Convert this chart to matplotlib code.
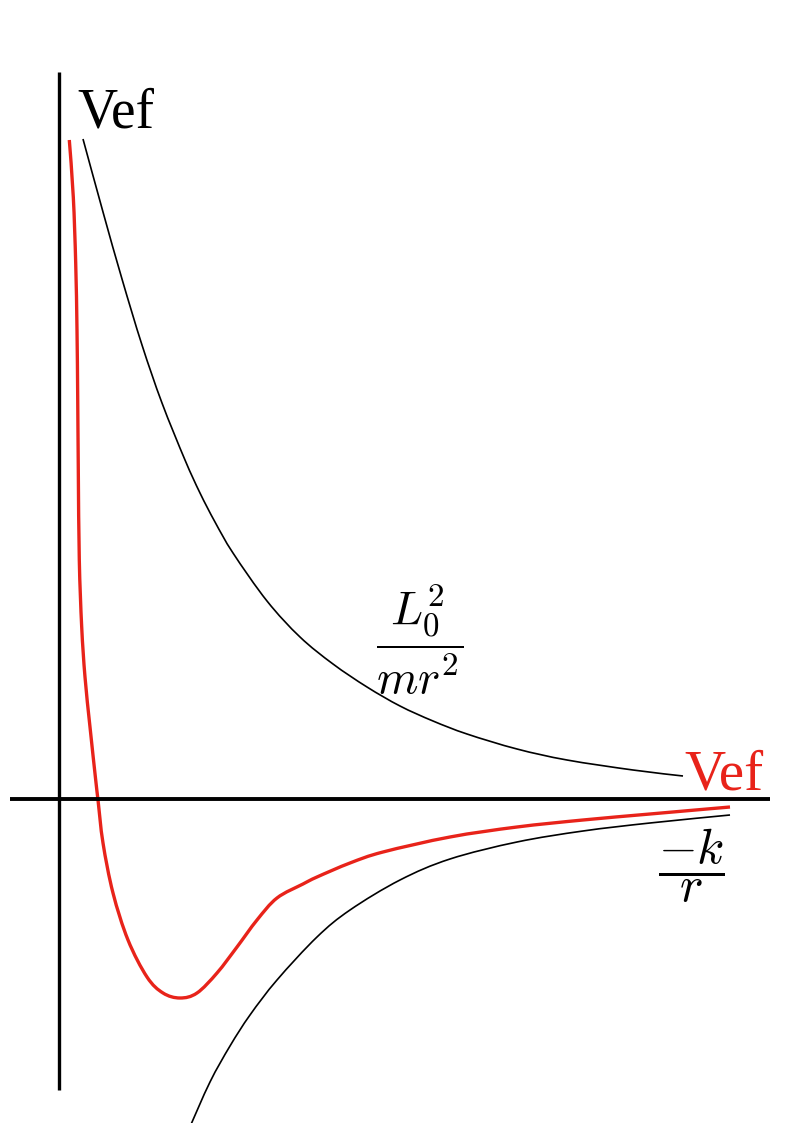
import matplotlib.pyplot as plt
from matplotlib.path import Path
from matplotlib.patches import PathPatch

plt.rcParams['mathtext.fontset'] = 'cm'

# effective potential
r_vef = [0.103, 0.143, 0.167, 0.180, 0.187, 0.193, 0.203, 0.227, 0.26, 0.31, 0.367, 0.39,
         0.44, 0.54, 0.69, 0.88, 1.04, 1.21, 1.38, 1.58, 1.78, 1.98, 2.18, 2.44,
         2.58, 2.91, 3.24, 3.91, 4.58, 5.24, 5.91, 6.71]
v_vef = [6.59, 6.02, 5.36, 4.69, 4.02, 3.29, 2.39, 1.72, 1.22, 0.72, 0.19, -0.01,
         -0.44, -0.94, -1.41, -1.78, -1.94, -1.99, -1.94, -1.74, -1.48, -1.21, -0.99, -0.85,
         -0.78, -0.64, -0.53, -0.38, -0.28, -0.21, -0.15, -0.08]

# centrifugal term L0^2/(m r^2)
r_cent = [0.24, 0.44, 0.63, 0.83, 1.03, 1.26, 1.41, 1.56, 1.74, 2.08,
          2.41, 2.74, 3.08, 3.41, 3.74, 4.08, 4.58, 5.08, 5.74, 6.24]
v_cent = [6.60, 5.87, 5.20, 4.54, 3.96, 3.39, 3.06, 2.77, 2.46, 1.98,
          1.62, 1.35, 1.12, 0.93, 0.78, 0.65, 0.50, 0.39, 0.29, 0.23]

# attractive term -k/r
r_grav = [1.30, 1.51, 1.71, 1.91, 2.18, 2.58, 2.91, 3.41, 3.91, 4.58, 5.24, 5.91, 6.71]
v_grav = [-3.30, -2.83, -2.47, -2.16, -1.81, -1.38, -1.11, -0.81, -0.60, -0.43, -0.32, -0.24, -0.16]

red = '#e8231a'


def smooth_path(xs, ys):
    # catmull-rom through the read points, drawn as cubic bezier segments
    pts = list(zip(xs, ys))
    verts = [pts[0]]
    codes = [Path.MOVETO]
    n = len(pts)
    for i in range(n - 1):
        p0 = pts[max(i - 1, 0)]
        p1 = pts[i]
        p2 = pts[i + 1]
        p3 = pts[min(i + 2, n - 1)]
        c1 = (p1[0] + (p2[0] - p0[0]) / 6, p1[1] + (p2[1] - p0[1]) / 6)
        c2 = (p2[0] - (p3[0] - p1[0]) / 6, p2[1] - (p3[1] - p1[1]) / 6)
        verts += [c1, c2, p2]
        codes += [Path.CURVE4] * 3
    return Path(verts, codes)


fig = plt.figure(figsize=(7.94, 11.23), dpi=100)
ax = fig.add_axes([0, 0, 1, 1])
ax.set_xlim(-0.59, 7.35)
ax.set_ylim(-3.24, 7.99)
ax.axis('off')

# axes drawn by hand
ax.plot([0, 0], [-2.91, 7.27], color='black', lw=2.4, solid_capstyle='butt')
ax.plot([-0.49, 7.11], [0, 0], color='black', lw=2.8, solid_capstyle='butt')

ax.add_patch(PathPatch(smooth_path(r_cent, v_cent), fill=False, edgecolor='black', lw=1.2))
ax.add_patch(PathPatch(smooth_path(r_grav, v_grav), fill=False, edgecolor='black', lw=1.2))
ax.add_patch(PathPatch(smooth_path(r_vef, v_vef), fill=False, edgecolor=red, lw=2.4,
                       capstyle='butt', joinstyle='round'))

ax.text(0.18, 6.72, 'Vef', family='Liberation Serif', fontsize=40,
        ha='left', va='baseline')
ax.text(6.25, 0.09, 'Vef', family='Liberation Serif', fontsize=41,
        color=red, ha='left', va='baseline')
ax.text(3.61, 1.59, r'$\dfrac{L_0^2}{mr^2}$', fontsize=34, ha='center', va='center')
ax.text(6.32, -0.67, r'$\dfrac{-k}{r}$', fontsize=36, ha='center', va='center')

fig.savefig('out.png', dpi=100)
